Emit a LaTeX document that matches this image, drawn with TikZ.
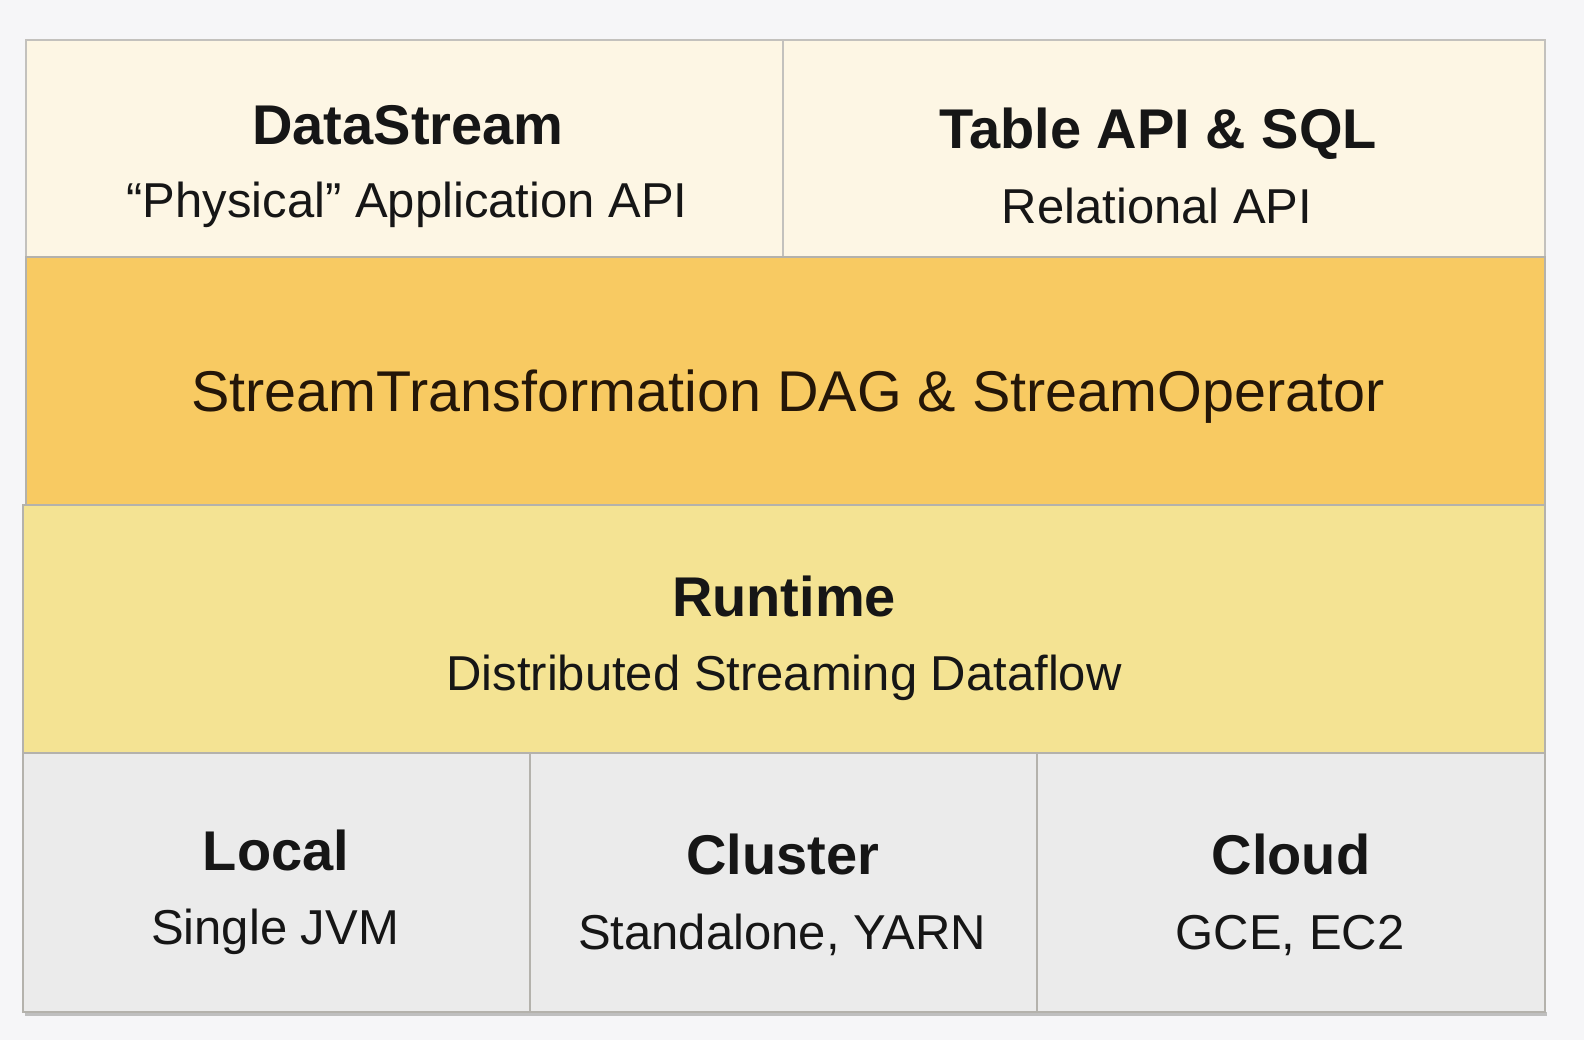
\documentclass[tikz,border=0pt]{standalone}
\usepackage{fontspec}
\setmainfont{Liberation Sans}
\definecolor{bgc}{HTML}{F6F6F8}
\definecolor{cream}{HTML}{FDF6E4}
\definecolor{orangeband}{HTML}{F8CA62}
\definecolor{yellowband}{HTML}{F4E393}
\definecolor{greybox}{HTML}{EBEBEB}
\definecolor{edge}{HTML}{B4B2AC}
\definecolor{ink}{HTML}{161616}
\definecolor{inkbrown}{HTML}{241608}
\tikzset{
  layerbox/.style={draw=edge, line width=2pt, anchor=north west, inner sep=0pt, outer sep=0pt},
  titletext/.style={anchor=base, inner sep=0pt, text=ink, font=\fontsize{56}{60}\selectfont\bfseries},
  subtext/.style={anchor=base, inner sep=0pt, text=ink, font=\fontsize{49}{54}\selectfont},
  bandtext/.style={anchor=base, inner sep=0pt, text=inkbrown, font=\fontsize{57.5}{62}\selectfont},
}
\begin{document}
\begin{tikzpicture}[x=1pt,y=-1pt]
\useasboundingbox (0,0) rectangle (1584,1040);
\fill[bgc] (0,0) rectangle (1584,1040);
% shadow under the bottom row
\fill[black!25] (25,1012) rectangle (1547,1016);
% top row
\node[layerbox, fill=cream, draw=edge!80, minimum width=757pt, minimum height=217pt] (ds) at (26,40) {};
\node[layerbox, fill=cream, draw=edge!80, minimum width=762pt, minimum height=217pt] (tb) at (783,40) {};
% middle bands
\node[layerbox, fill=orangeband, minimum width=1519pt, minimum height=248pt] (st) at (26,257) {};
\node[layerbox, fill=yellowband, minimum width=1522pt, minimum height=248pt] (rt) at (23,505) {};
% bottom row
\node[layerbox, fill=greybox, minimum width=507pt, minimum height=259pt] (lo) at (23,753) {};
\node[layerbox, fill=greybox, minimum width=507pt, minimum height=259pt] (cl) at (530,753) {};
\node[layerbox, fill=greybox, minimum width=508pt, minimum height=259pt] (cd) at (1037,753) {};
% texts
\node[titletext] (dst) at (408,145) {DataStream};
\node[subtext] (dss) at (407,218) {“Physical” Application API};
\node[titletext] (tbt) at (1158,149) {Table API \& SQL};
\node[subtext] (tbs) at (1157,224) {Relational API};
\node[bandtext] (stt) at (788,411) {StreamTransformation DAG \& StreamOperator};
\node[titletext] (rtt) at (784,616) {Runtime};
\node[subtext] (rts) at (784,690) {Distributed Streaming Dataflow};
\node[titletext] (lot) at (276,870) {Local};
\node[subtext] (los) at (275,944) {Single JVM};
\node[titletext] (clt) at (783,874) {Cluster};
\node[subtext] (cls) at (782,949) {Standalone, YARN};
\node[titletext] (cdt) at (1291,874) {Cloud};
\node[subtext] (cds) at (1290,949) {GCE, EC2};
\end{tikzpicture}
\end{document}
